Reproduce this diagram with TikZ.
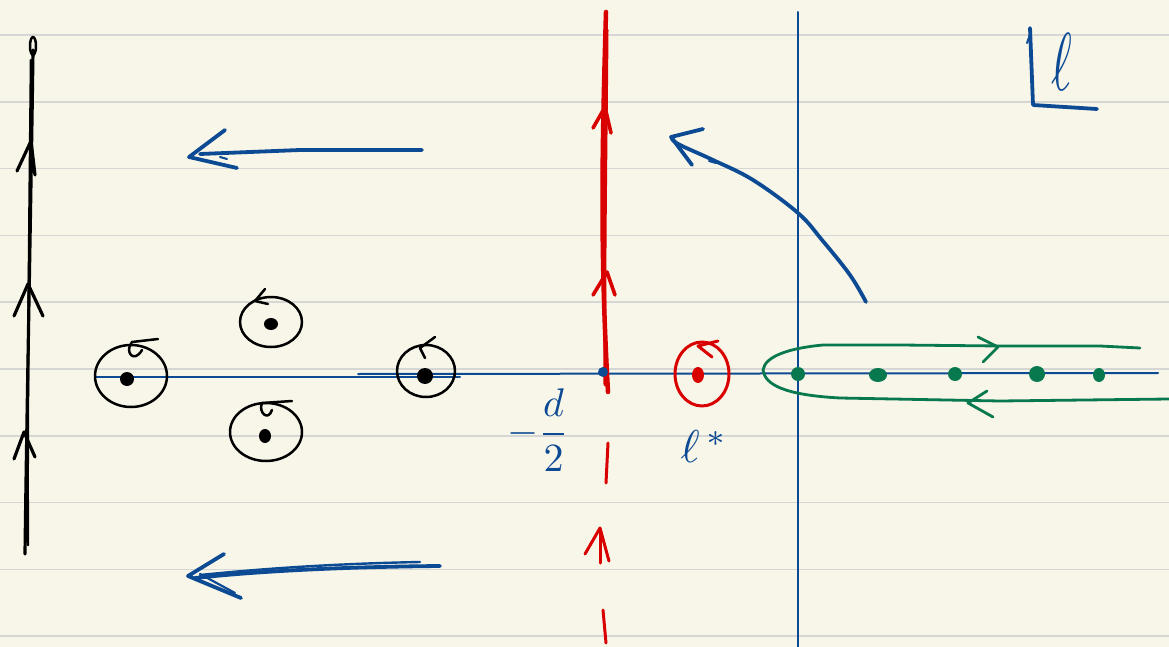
\documentclass[tikz,border=0pt]{standalone}
\definecolor{paper}{HTML}{F8F6E9}
\definecolor{rulec}{HTML}{D6D6D4}
\definecolor{penblue}{HTML}{0D4A94}
\definecolor{penred}{HTML}{D90000}
\definecolor{pengreen}{HTML}{08784E}
\begin{document}
\begin{tikzpicture}[x=1pt,y=-1pt,line cap=round,line join=round,
  inkblack/.style={draw=black,line width=3.2},
  inkthin/.style={draw=black,line width=2.5},
  inkblue/.style={draw=penblue,line width=3.8},
  axisline/.style={draw=penblue,line width=2},
  inkred/.style={draw=penred,line width=3.6},
  inkgreen/.style={draw=pengreen,line width=2.8},
  gdot/.style={fill=pengreen},
  vdot/.style={fill=black},
  handlabel/.style={text=penblue,inner sep=0pt}]
\useasboundingbox (0,0) rectangle (1169,647);
\fill[paper] (0,0) rectangle (1169,647);
\foreach \i in {0,...,9} \draw[rulec,line width=1.5] (0,{35+66.8*\i}) -- (1169,{35+66.8*\i});

% black vertical line with arrows
\draw[inkblack] (33,50) .. controls (31,200) and (27,400) .. (25,554);
\draw[inkthin] (31,60) .. controls (29,250) and (27,450) .. (28,545);
\draw[inkthin] (33,46) ellipse (3 and 9);
\draw[inkblack] (17,171) -- (31,141) -- (35,175);
\draw[inkblack] (14,316) -- (28,284) -- (43,316);
\draw[inkblack] (14,459) -- (24,432) -- (35,457);

% blue arrows pointing left
\draw[inkblue] (422,150) -- (300,150) -- (200,154);
\draw[inkblue] (225,130) -- (189,157) -- (237,168);
\draw[inkblue,line width=2] (220,157) -- (227,159);
\draw[inkblue] (440,566) .. controls (330,567) and (250,572) .. (195,578);
\draw[inkblue,line width=2.4] (420,562) .. controls (320,564) and (250,570) .. (200,575);
\draw[inkblue] (224,554) -- (188,576) -- (241,598);
\draw[inkblue,line width=2.2] (200,574) -- (235,593);

% axis
\draw[axisline] (95,377) -- (460,377);
\draw[axisline] (358,374) -- (1158,373);
% blue vertical line
\draw[axisline] (798,12) -- (798,647);

% vortices
\draw[inkthin] (131,376) ellipse (36 and 31);
\fill[vdot] (127,379) circle (7);
\draw[inkthin] (158,339) -- (132,342) .. controls (124,352) and (134,364) .. (142,350);
\draw[inkthin] (271,322) ellipse (31 and 25);
\fill[vdot] (271,324) ellipse (7 and 6);
\draw[inkthin] (265,289) -- (255,301) -- (268,304);
\draw[inkthin] (266,432) ellipse (36 and 29);
\fill[vdot] (265,436) ellipse (6 and 7);
\draw[inkthin] (292,401) -- (262,403) .. controls (258,412) and (268,422) .. (272,410);
\draw[inkthin] (426,371) ellipse (29 and 26);
\fill[vdot] (425,376) circle (8);
\draw[inkthin] (435,337) -- (420,348) -- (425,358);

% red vertical line
\draw[inkred,line width=4.5] (606,12) .. controls (602,150) and (600,250) .. (608,392);
\draw[inkred,line width=3] (607,30) .. controls (606,150) and (604,280) .. (605,385);
\draw[inkred] (593,128) -- (605,107) -- (611,133);
\draw[inkred] (593,295) -- (607,272) -- (615,295);
\draw[inkred,line width=3] (608,443) -- (606,483);
\draw[inkred,line width=3] (585,554) -- (600,528) -- (609,561);
\draw[inkred,line width=3] (600,530) -- (600,563);
\draw[inkred,line width=3] (603,610) -- (606,643);
\fill[penblue] (603,372) circle (5);

% red vortex
\draw[inkred,line width=3] (702,374) ellipse (27 and 32);
\fill[penred] (698,375) ellipse (6 and 8);
\draw[inkred,line width=3] (718,341) -- (698,346) -- (712,357);

% labels
\node[handlabel,scale=4] (dlabel) at (538,430) {$-\displaystyle\frac{d}{2}$};
\node[handlabel,scale=4.6] (lstar) at (704,447) {$\ell^{\,*}$};
\node[handlabel,xscale=5,yscale=8.2] (lcorner) at (1062,62) {$\ell$};
\draw[inkblue] (1030,28) -- (1033,105) -- (1097,109);
\draw[inkblue,line width=2] (1027,43) -- (1031,32);

% curved blue arrow
\draw[inkblue] plot[smooth,tension=0.6] coordinates {(866,302) (850,275) (822,240) (798,213) (753,180) (713,160) (680,145) (672,139)};
\draw[inkblue] (703,129) -- (671,137) -- (692,165);
\draw[inkblue,line width=2] (709,161) -- (716,163);

% green hairpin contour
\draw[inkgreen] (1140,348) -- (1100,346) -- (1000,346) -- (900,345) -- (823,345)
  .. controls (790,348) and (765,356) .. (763,370)
  .. controls (765,385) and (785,395) .. (840,398) -- (1000,401) -- (1169,399);
\draw[inkgreen] (978,337) -- (998,347) -- (983,362);
\draw[inkgreen] (987,391) -- (968,403) -- (993,417);
\fill[gdot] (798,374) circle (7);
\fill[gdot] (878,375) ellipse (9 and 7);
\fill[gdot] (955,374) circle (7);
\fill[gdot] (1037,374) circle (8);
\fill[gdot] (1099,375) ellipse (6 and 7);
\end{tikzpicture}
\end{document}
